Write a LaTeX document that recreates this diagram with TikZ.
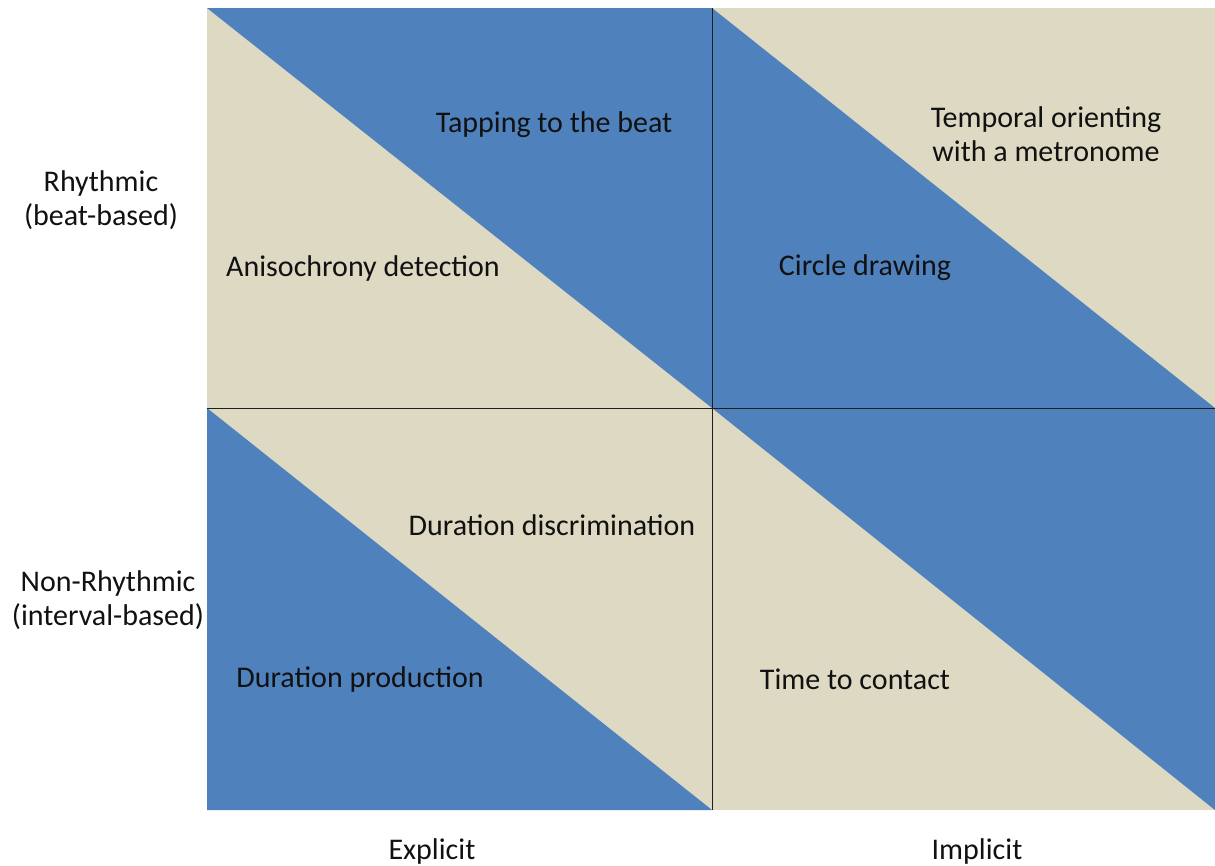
\documentclass[tikz,border=0pt]{standalone}
\usepackage{fontspec}
\setmainfont{Carlito}
\usepackage{xcolor}
\usepackage{tikz}
\definecolor{bg}{HTML}{FFFFFF}
\definecolor{blueTri}{HTML}{4F81BD}
\definecolor{tanTri}{HTML}{DDD9C3}
\definecolor{gridInk}{HTML}{1E1E1E}
\definecolor{text}{HTML}{111111}
\tikzset{
  blueFill/.style={fill=blueTri, draw=none},
  tanFill/.style={fill=tanTri, draw=none},
  gridLine/.style={draw=gridInk, line width=1pt},
  taskLbl/.style={text=text, font=\fontsize{30}{34}\selectfont, inner sep=0pt, align=center},
  axisLbl/.style={text=text, font=\fontsize{30}{34}\selectfont, inner sep=0pt, align=center},
}
\newcommand{\GridCoords}{%
  \coordinate (TL) at (207,8);
  \coordinate (TM) at (712,8);
  \coordinate (TR) at (1215,8);
  \coordinate (ML) at (207,408);
  \coordinate (MM) at (712,408);
  \coordinate (MR) at (1215,408);
  \coordinate (BL) at (207,810);
  \coordinate (BM) at (712,810);
  \coordinate (BR) at (1215,810);
}

\begin{document}
\begin{tikzpicture}[x=1pt, y=-1pt]
  \useasboundingbox[fill=bg] (0,0) rectangle (1215,865);
  \GridCoords
  \fill[tanFill] (TL) rectangle (BR);

  % four split quadrants
  \fill[blueFill] (TL)--(TM)--(MM)--cycle;
  \fill[blueFill] (TM)--(MM)--(MR)--cycle;
  \fill[blueFill] (ML)--(BL)--(BM)--cycle;
  \fill[blueFill] (MM)--(MR)--(BR)--cycle;

  \draw[gridLine] (TM) -- (BM);
  \draw[gridLine] (ML) -- (MR);

  \node[taskLbl] (tap)   at (554,125) {Tapping to the beat};
  \node[taskLbl] (orient) at (1046,134) {Temporal orienting\\with a metronome};
  \node[taskLbl] (aniso) at (363,268) {Anisochrony detection};
  \node[taskLbl] (circ)  at (865,268) {Circle drawing};
  \node[taskLbl] (ddisc) at (552,525) {Duration discrimination};
  \node[taskLbl] (dprod) at (360,679) {Duration production};
  \node[taskLbl] (ttc)   at (855,679) {Time to contact};

  \node[axisLbl] (rhy)  at (101,200) {Rhythmic\\(beat-based)};
  \node[axisLbl] (nrhy) at (108,600) {Non-Rhythmic\\(interval-based)};
  \node[axisLbl] (expl) at (432,851) {Explicit};
  \node[axisLbl] (impl) at (977,851) {Implicit};
\end{tikzpicture}
\end{document}
